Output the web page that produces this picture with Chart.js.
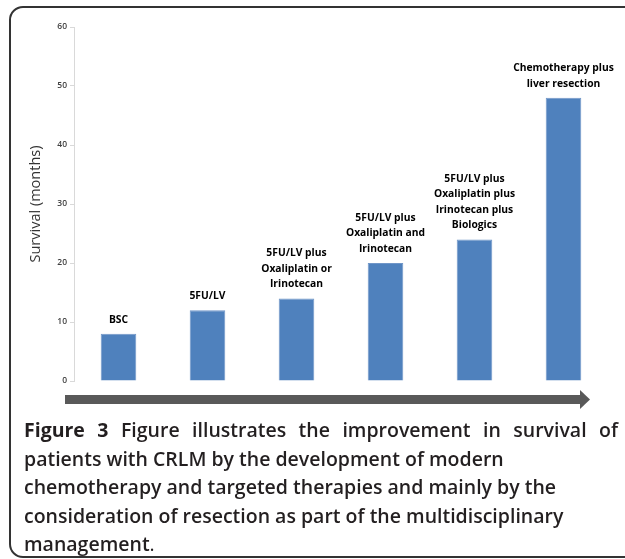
<!DOCTYPE html>
<html lang="en">
<head>
    <meta charset="UTF-8">
    <title>Survival in CRLM</title>
    <script src="https://cdn.jsdelivr.net/npm/chart.js"></script>
    <style>
        body { margin: 0; background: #fff; }
        .frame {
            position: absolute; left: 9px; top: 6px; width: 640px; height: 552px;
            border: 2px solid #333; border-radius: 14px; box-sizing: border-box;
        }
        #chartBox { position: absolute; left: 0; top: 0; width: 625px; height: 395px; }
        #arrow { position: absolute; left: 0; top: 385px; }
        .caption {
            position: absolute; left: 24px; top: 416px; width: 594px;
            font-family: "Open Sans", sans-serif; font-weight: 600; font-size: 19.5px;
            line-height: 28.5px; color: #231f20;
        }
        .caption .l1 { text-align: justify; text-align-last: justify; }
        .caption b { font-weight: 700; }
    </style>
</head>
<body>
    <div class="frame"></div>
    <div id="chartBox"><canvas id="survivalChart" width="625" height="395"></canvas></div>
    <svg id="arrow" width="625" height="30">
        <rect x="65" y="10" width="517" height="9" fill="#595959"></rect>
        <polygon points="580,5 590,14.5 580,24" fill="#595959"></polygon>
    </svg>
    <div class="caption">
        <div class="l1"><b>Figure 3</b> Figure illustrates the improvement in survival of</div>
        <div>patients with CRLM by the development of modern</div>
        <div>chemotherapy and targeted therapies and mainly by the</div>
        <div>consideration of resection as part of the multidisciplinary</div>
        <div>management<span style="font-weight:400">.</span></div>
    </div>
    <script>
        // treatment groups and median survival (months)
        const treatments = ['BSC', '5FU/LV', '5FU/LV + Ox or Iri', '5FU/LV + Ox + Iri',
            '5FU/LV + Ox + Iri + Bio', 'Chemo + resection'];
        const survival = [8, 12, 14, 20, 24, 48];
        const barLabels = [
            ['BSC'],
            ['5FU/LV'],
            ['5FU/LV plus', 'Oxaliplatin or', 'Irinotecan'],
            ['5FU/LV plus', 'Oxaliplatin and', 'Irinotecan'],
            ['5FU/LV plus', 'Oxaliplatin plus', 'Irinotecan plus', 'Biologics'],
            ['Chemotherapy plus', 'liver resection']
        ];
        const yTicks = [0, 10, 20, 30, 40, 50, 60];

        // text above each bar
        const barTextPlugin = {
            id: 'barText',
            afterDatasetsDraw(chart) {
                const ctx = chart.ctx;
                const meta = chart.getDatasetMeta(0);
                ctx.save();
                ctx.font = 'bold 10.3px "Open Sans", sans-serif';
                ctx.fillStyle = '#000';
                ctx.textAlign = 'center';
                ctx.textBaseline = 'middle';
                meta.data.forEach((bar, i) => {
                    const lines = barLabels[i];
                    lines.forEach((txt, j) => {
                        const fromBottom = lines.length - 1 - j;
                        ctx.fillText(txt, bar.x, bar.y - 14 - fromBottom * 15.5);
                    });
                });
                ctx.restore();
            }
        };

        const ctx = document.getElementById('survivalChart').getContext('2d');
        new Chart(ctx, {
            type: 'bar',
            data: {
                labels: treatments,
                datasets: [{
                    data: survival,
                    backgroundColor: '#4F81BD',
                    borderColor: '#7096c8',
                    borderWidth: 1,
                    barPercentage: 0.8,
                    categoryPercentage: 0.5
                }]
            },
            options: {
                responsive: false,
                animation: false,
                layout: { padding: { top: 27, right: 17, bottom: 14, left: 0 } },
                plugins: { legend: { display: false }, tooltip: { enabled: false } },
                scales: {
                    x: { display: false },
                    y: {
                        min: 0,
                        max: 60,
                        afterBuildTicks: (scale) => { scale.ticks = yTicks.map(v => ({ value: v })); },
                        afterFit: (scale) => { scale.width = 74; },
                        ticks: {
                            color: '#404040',
                            font: { family: 'Open Sans', size: 8.5, weight: '600' },
                            padding: 3
                        },
                        grid: { drawOnChartArea: false, tickLength: 4, color: '#d9d9d9' },
                        border: { color: '#d9d9d9' },
                        title: {
                            display: true,
                            text: 'Survival (months)',
                            color: '#333',
                            font: { family: 'Open Sans', size: 14.5 },
                            padding: { top: 27, bottom: 0 }
                        }
                    }
                }
            },
            plugins: [barTextPlugin]
        });
    </script>
</body>
</html>
